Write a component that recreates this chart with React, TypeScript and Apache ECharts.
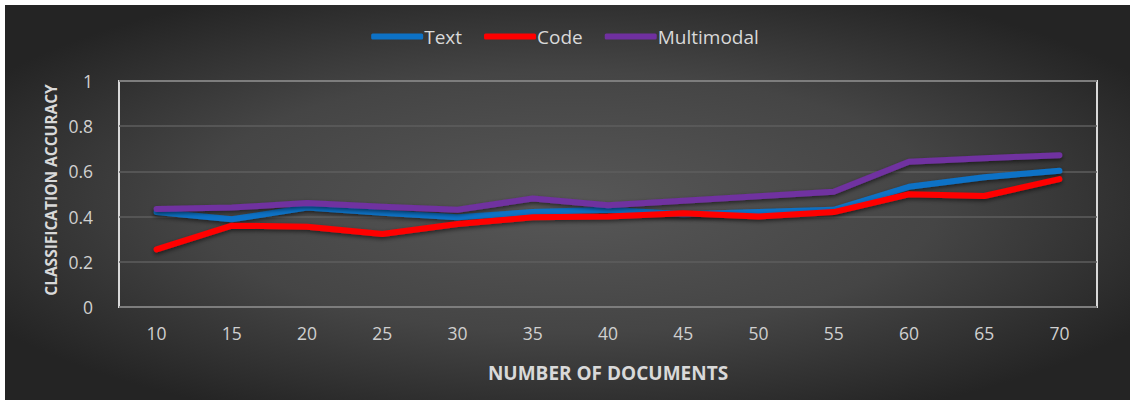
import React, { useEffect, useRef } from "react";
import * as echarts from "echarts";

const categories = ["10", "15", "20", "25", "30", "35", "40", "45", "50", "55", "60", "65", "70"];
const textValues = [0.42, 0.388, 0.44, 0.417, 0.397, 0.42, 0.43, 0.41, 0.42, 0.43, 0.532, 0.574, 0.603];
const codeValues = [0.255, 0.36, 0.355, 0.323, 0.367, 0.397, 0.4, 0.415, 0.4, 0.42, 0.499, 0.491, 0.566];
const multimodalValues = [0.434, 0.44, 0.46, 0.444, 0.43, 0.48, 0.45, 0.47, 0.49, 0.51, 0.643, 0.658, 0.672];
const yTicks = [0, 0.2, 0.4, 0.6, 0.8, 1];

const FONT = "'Open Sans', 'Noto Sans', sans-serif";

export default function App() {
  const ref = useRef<HTMLDivElement>(null);
  useEffect(() => {
    if (!ref.current) return;
    const chart = echarts.init(ref.current, null, { renderer: "svg" });
    const mkSeries = (name: string, data: number[], color: string) => ({
      name,
      type: "line",
      data,
      symbol: "none",
      lineStyle: {
        width: 6,
        color,
        cap: "round",
        join: "round",
        shadowColor: "rgba(0,0,0,0.55)",
        shadowBlur: 4,
        shadowOffsetY: 2,
      },
      itemStyle: { color },
    });
    chart.setOption({
      animation: false,
      graphic: [
        {
          type: "rect",
          z: -10,
          silent: true,
          shape: { x: 5, y: 5, width: 1125, height: 395 },
          style: {
            fill: {
              type: "radial",
              x: 0.5,
              y: 0.5,
              r: 0.6,
              colorStops: [
                { offset: 0, color: "#575757" },
                { offset: 0.55, color: "#454545" },
                { offset: 1, color: "#242424" },
              ],
            },
          },
        },
        {
          type: "text",
          z: 10,
          x: 51,
          y: 190,
          rotation: Math.PI / 2,
          style: {
            text: "CLASSIFICATION ACCURACY",
            fill: "#d9d9d9",
            font: `bold 15.5px ${FONT}`,
            textAlign: "center",
            textVerticalAlign: "middle",
          },
        },
      ],
      legend: {
        top: 22,
        left: "center",
        icon: "roundRect",
        itemWidth: 52,
        itemHeight: 6,
        itemGap: 22,
        textStyle: { color: "#d9d9d9", fontSize: 19, fontFamily: FONT, padding: [0, 0, 0, -4] },
        data: ["Text", "Code", "Multimodal"],
      },
      grid: { left: 119, right: 33, top: 81, bottom: 95, show: true, borderColor: "#d9d9d9", borderWidth: 2, backgroundColor: "transparent" },
      xAxis: {
        type: "category",
        data: categories,
        boundaryGap: true,
        name: "NUMBER OF DOCUMENTS",
        nameLocation: "middle",
        nameGap: 56,
        nameTextStyle: { color: "#d9d9d9", fontSize: 19, fontWeight: "bold", fontFamily: FONT },
        axisLine: { show: false },
        axisTick: { show: false },
        axisLabel: { color: "#d0d0d0", fontSize: 17.5, fontFamily: FONT, margin: 17 },
        splitLine: { show: false },
      },
      yAxis: {
        type: "value",
        min: yTicks[0],
        max: yTicks[yTicks.length - 1],
        interval: 0.2,
        axisLine: { show: false },
        axisTick: { show: false },
        axisLabel: { color: "#d0d0d0", fontSize: 17.5, fontFamily: FONT, margin: 26, formatter: (v: number) => String(Math.round(v * 10) / 10) },
        splitLine: { lineStyle: { color: "#5e5e5e", width: 1.5 } },
      },
      series: [
        mkSeries("Text", textValues, "#0d72c6"),
        mkSeries("Code", codeValues, "#ff0000"),
        mkSeries("Multimodal", multimodalValues, "#7030a0"),
      ],
    });
    return () => chart.dispose();
  }, []);
  return (
    <div style={{ position: "fixed", left: 0, top: 0, width: 1130, height: 402, background: "#ffffff" }}>
      <div ref={ref} style={{ width: 1130, height: 402 }} />
    </div>
  );
}
